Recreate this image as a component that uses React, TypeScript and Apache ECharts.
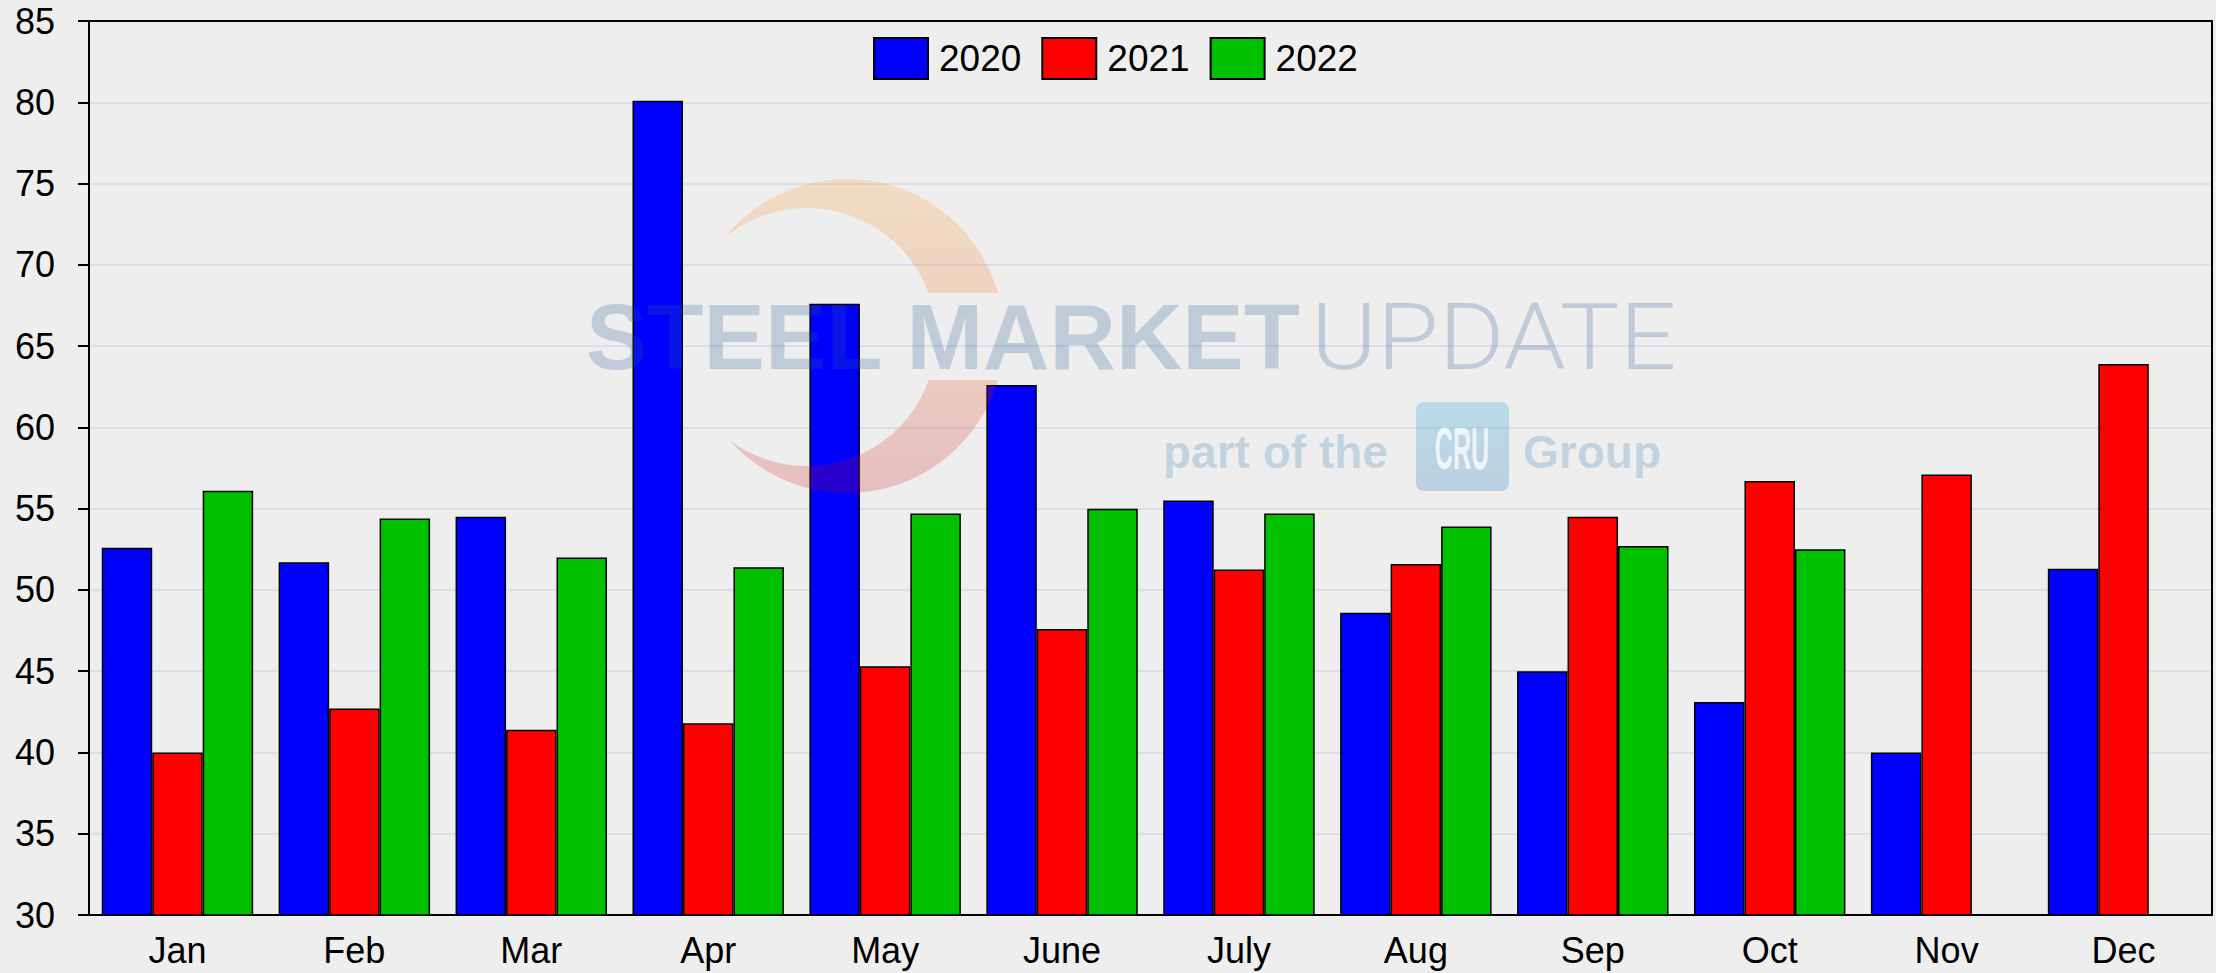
import React, { useEffect, useRef } from 'react';
import * as echarts from 'echarts';

const months = ['Jan', 'Feb', 'Mar', 'Apr', 'May', 'June', 'July', 'Aug', 'Sep', 'Oct', 'Nov', 'Dec'];
const years = ['2020', '2021', '2022'];
const v2020 = [52.6, 51.7, 54.5, 80.1, 67.6, 62.6, 55.5, 48.6, 45.0, 43.1, 40.0, 51.3];
const v2021 = [40.0, 42.7, 41.4, 41.8, 45.3, 47.6, 51.25, 51.6, 54.5, 56.7, 57.1, 63.9];
const v2022 = [56.1, 54.4, 52.0, 51.4, 54.7, 55.0, 54.7, 53.9, 52.7, 52.5, null, null];
const seriesValues = [v2020, v2021, v2022];
const colors = ['#0000ff', '#ff0000', '#00c000'];
const yMin = 30;
const yMax = 85;
const yInterval = 5;

const FONT = '"Liberation Sans", Arial, Helvetica, sans-serif';

type Circle = { cx: number; cy: number; r: number };

function arc(c: Circle, a0: number, a1: number, n = 60): number[][] {
  const pts: number[][] = [];
  for (let i = 0; i <= n; i++) {
    const a = a0 + ((a1 - a0) * i) / n;
    pts.push([c.cx + c.r * Math.cos(a), c.cy + c.r * Math.sin(a)]);
  }
  return pts;
}

function crescentPieces(O: Circle, I: Circle, bandTop: number, bandBottom: number) {
  const dx = I.cx - O.cx;
  const dy = I.cy - O.cy;
  const d = Math.sqrt(dx * dx + dy * dy);
  const a = (O.r * O.r - I.r * I.r + d * d) / (2 * d);
  const h = Math.sqrt(O.r * O.r - a * a);
  const px = O.cx + (a * dx) / d;
  const py = O.cy + (a * dy) / d;
  const p1 = [px + (h * dy) / d, py - (h * dx) / d];
  const p2 = [px - (h * dy) / d, py + (h * dx) / d];
  const up = p1[1] < p2[1] ? p1 : p2;
  const lo = p1[1] < p2[1] ? p2 : p1;
  const ang = (c: Circle, p: number[]) => Math.atan2(p[1] - c.cy, p[0] - c.cx);
  const normNeg = (x: number) => (x > 0 ? x - 2 * Math.PI : x);
  const oTop = Math.asin((bandTop - O.cy) / O.r);
  const iTop = Math.asin((bandTop - I.cy) / I.r);
  const upper = [
    ...arc(O, oTop, normNeg(ang(O, up))),
    ...arc(I, normNeg(ang(I, up)), iTop),
  ];
  const oBot = Math.asin((bandBottom - O.cy) / O.r);
  const iBot = Math.asin((bandBottom - I.cy) / I.r);
  const lower = [
    ...arc(O, oBot, ang(O, lo)),
    ...arc(I, ang(I, lo), iBot),
  ];
  return [upper, lower];
}

export default function App() {
  const ref = useRef<HTMLDivElement>(null);

  useEffect(() => {
    if (!ref.current) return;
    const chart = echarts.init(ref.current, null, { renderer: 'svg' });

    const outer: Circle = { cx: 847, cy: 336, r: 157 };
    const inner: Circle = { cx: 807, cy: 337, r: 129 };
    const [upperPts, lowerPts] = crescentPieces(outer, inner, 293, 380);
    const crescentFill = new echarts.graphic.LinearGradient(0, 180, 0, 493, [
      { offset: 0, color: 'rgba(255,150,20,0.2)' },
      { offset: 0.5, color: 'rgba(235,80,10,0.2)' },
      { offset: 1, color: 'rgba(195,0,0,0.2)' },
    ], true);
    const cruFill = new echarts.graphic.LinearGradient(0, 402, 0, 491, [
      { offset: 0, color: 'rgba(65,175,218,0.3)' },
      { offset: 1, color: 'rgba(71,135,188,0.3)' },
    ], true);
    const wmColor = 'rgba(40,85,150,0.23)';
    const wmColor2 = 'rgba(40,110,170,0.22)';

    const option: any = {
      animation: false,
      backgroundColor: '#eeeeee',
      grid: {
        left: 89,
        right: 4,
        top: 21,
        bottom: 58,
        show: false,
        containLabel: false,
        outerBoundsMode: 'none',
      },
      legend: {
        data: years,
        left: 873,
        top: 37,
        padding: 0,
        itemWidth: 54,
        itemHeight: 41,
        itemGap: 20,
        icon: 'rect',
        textStyle: { color: '#000', fontSize: 37, fontFamily: FONT, padding: [0, 0, 0, 6] },
      },
      xAxis: [
        {
          type: 'category',
          data: months,
          axisLine: { show: true, lineStyle: { color: '#000', width: 2 } },
          axisTick: { show: false },
          axisLabel: { color: '#000', fontSize: 36, fontFamily: FONT, margin: 17 },
          splitLine: { show: false },
        },
        {
          type: 'category',
          data: months,
          position: 'top',
          axisLine: { show: true, lineStyle: { color: '#000', width: 2 } },
          axisTick: { show: false },
          axisLabel: { show: false },
          splitLine: { show: false },
          z: 10,
        },
      ],
      yAxis: [
        {
          type: 'value',
          min: yMin,
          max: yMax,
          interval: yInterval,
          axisLine: { show: true, lineStyle: { color: '#000', width: 2 } },
          axisTick: { show: true, length: 11, lineStyle: { color: '#000', width: 2 } },
          axisLabel: { color: '#000', fontSize: 36, fontFamily: FONT, margin: 34 },
          splitLine: { show: true, lineStyle: { color: '#d2d9e8', width: 1.5 } },
        },
        {
          type: 'value',
          min: yMin,
          max: yMax,
          interval: yInterval,
          position: 'right',
          axisLine: { show: true, lineStyle: { color: '#000', width: 2 } },
          axisTick: { show: false },
          axisLabel: { show: false },
          splitLine: { show: false },
          z: 10,
        },
      ],
      series: years.map((y, i) => ({
        name: y,
        type: 'bar',
        xAxisIndex: 0,
        yAxisIndex: 0,
        data: seriesValues[i],
        barGap: '0%',
        barCategoryGap: '14.4%',
        itemStyle: { color: colors[i], borderColor: '#000', borderWidth: 1.5 },
      })),
      graphic: {
        elements: [
          { type: 'polygon', z: 50, silent: true, shape: { points: upperPts }, style: { fill: crescentFill } },
          { type: 'polygon', z: 50, silent: true, shape: { points: lowerPts }, style: { fill: crescentFill } },
          {
            type: 'text', z: 51, silent: true, x: 586, y: 337,
            style: { text: 'STEEL MARKET', fontSize: 92, fontWeight: 'bold', fontFamily: FONT, fill: wmColor, textAlign: 'left', textVerticalAlign: 'middle' },
          },
          {
            type: 'text', z: 51, silent: true, x: 1311, y: 337, scaleX: 1.09,
            style: { text: 'UPDATE', fontSize: 92, fontWeight: 300, fontFamily: 'Roboto, Lato, "Liberation Sans", sans-serif', fill: wmColor, textAlign: 'left', textVerticalAlign: 'middle' },
          },
          {
            type: 'text', z: 51, silent: true, x: 1163, y: 452,
            style: { text: 'part of the', fontSize: 46, fontWeight: 'bold', fontFamily: FONT, fill: wmColor2, textAlign: 'left', textVerticalAlign: 'middle' },
          },
          {
            type: 'rect', z: 50, silent: true,
            shape: { x: 1416, y: 402, width: 93, height: 89, r: 8 },
            style: { fill: cruFill },
          },
          {
            type: 'text', z: 52, silent: true, x: 1462, y: 448, scaleX: 0.42,
            style: { text: 'CRU', fontSize: 60, fontWeight: 'bold', fontFamily: FONT, fill: 'rgba(255,255,255,0.75)', textAlign: 'center', textVerticalAlign: 'middle' },
          },
          {
            type: 'text', z: 51, silent: true, x: 1523, y: 452,
            style: { text: 'Group', fontSize: 46, fontWeight: 'bold', fontFamily: FONT, fill: wmColor2, textAlign: 'left', textVerticalAlign: 'middle' },
          },
        ],
      },
    };

    chart.setOption(option);
    return () => {
      chart.dispose();
    };
  }, []);

  return (
    <div
      ref={ref}
      style={{ position: 'absolute', left: 0, top: 0, width: 2216, height: 973 }}
    />
  );
}
